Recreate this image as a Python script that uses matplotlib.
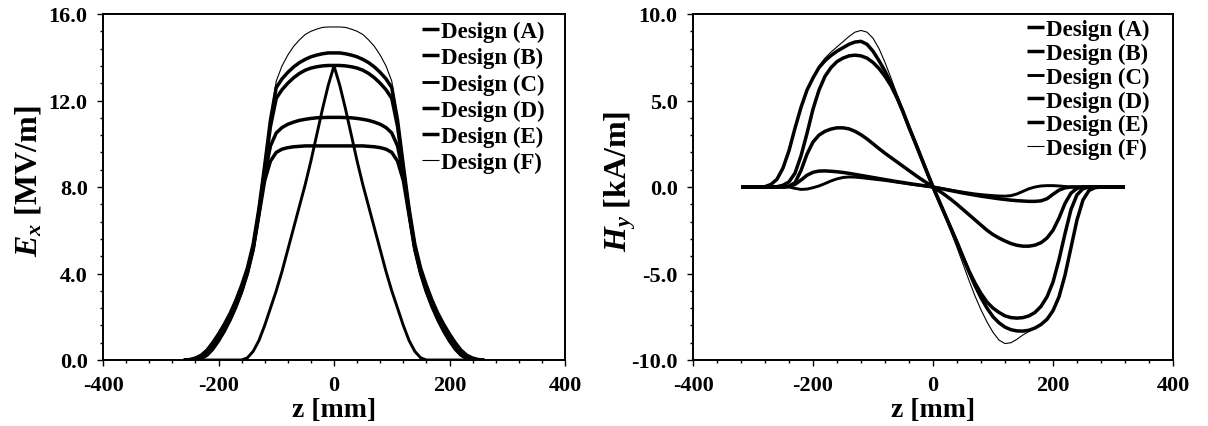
import matplotlib
matplotlib.use("Agg")
import matplotlib.pyplot as plt
from matplotlib.ticker import MultipleLocator, FormatStrFormatter

plt.rcParams['font.family'] = ['Liberation Serif', 'DejaVu Serif']
plt.rcParams['font.weight'] = 'bold'
plt.rcParams['axes.unicode_minus'] = False
plt.rcParams['mathtext.fontset'] = 'custom'
plt.rcParams['mathtext.it'] = 'Liberation Serif:italic:bold'
plt.rcParams['mathtext.rm'] = 'Liberation Serif:bold'
plt.rcParams['mathtext.bf'] = 'Liberation Serif:bold'

# ---------------- data ----------------
labels = ['Design (A)', 'Design (B)', 'Design (C)', 'Design (D)', 'Design (E)', 'Design (F)']

# Left panel: E_x [MV/m] vs z [mm]
z_E = list(range(-260, 261, 10))
E_A = [0, 0.02, 0.09, 0.22, 0.45, 0.8, 1.2, 1.65, 2.15, 2.75,
       3.45, 4.25, 5.35, 7.0, 9.0, 11.1, 12.6, 13.0, 13.3, 13.55,
       13.75, 13.9, 14.02, 14.1, 14.16, 14.2, 14.2, 14.2, 14.16, 14.1,
       14.02, 13.9, 13.75, 13.55, 13.3, 13.0, 12.6, 11.1, 9.0, 7.0,
       5.35, 4.25, 3.45, 2.75, 2.15, 1.65, 1.2, 0.8, 0.45, 0.22,
       0.09, 0.02, 0]
E_B = [0, 0, 0.04, 0.14, 0.32, 0.62, 1.0, 1.45, 1.95, 2.55,
       3.25, 4.1, 5.2, 6.85, 8.8, 10.8, 12.1, 12.5, 12.8, 13.05,
       13.25, 13.4, 13.5, 13.56, 13.6, 13.62, 13.62, 13.62, 13.6, 13.56,
       13.5, 13.4, 13.25, 13.05, 12.8, 12.5, 12.1, 10.8, 8.8, 6.85,
       5.2, 4.1, 3.25, 2.55, 1.95, 1.45, 1.0, 0.62, 0.32, 0.14,
       0.04, 0, 0]
E_C = [0, 0, 0, 0, 0, 0, 0, 0, 0, 0,
       0.0, 0.1, 0.4, 0.9, 1.6, 2.4, 3.2, 4.1, 5.1, 6.1,
       7.1, 8.1, 9.2, 10.4, 11.6, 12.7, 13.6, 12.7, 11.6, 10.4,
       9.2, 8.1, 7.1, 6.1, 5.1, 4.1, 3.2, 2.4, 1.6, 0.9,
       0.4, 0.1, 0.0, 0, 0, 0, 0, 0, 0, 0,
       0, 0, 0]
E_D = [0, 0, 0.02, 0.1, 0.26, 0.55, 0.93, 1.38, 1.9, 2.5,
       3.2, 4.05, 5.15, 6.8, 8.6, 9.9, 10.5, 10.75, 10.9, 11.0,
       11.08, 11.13, 11.17, 11.2, 11.21, 11.22, 11.22, 11.22, 11.21, 11.2,
       11.17, 11.13, 11.08, 11.0, 10.9, 10.75, 10.5, 9.9, 8.6, 6.8,
       5.15, 4.05, 3.2, 2.5, 1.9, 1.38, 0.93, 0.55, 0.26, 0.1,
       0.02, 0, 0]
E_E = [0, 0, 0.01, 0.07, 0.22, 0.5, 0.88, 1.33, 1.85, 2.45,
       3.15, 4.0, 5.1, 6.7, 8.3, 9.2, 9.6, 9.75, 9.82, 9.86,
       9.88, 9.9, 9.9, 9.9, 9.9, 9.9, 9.9, 9.9, 9.9, 9.9,
       9.9, 9.9, 9.88, 9.86, 9.82, 9.75, 9.6, 9.2, 8.3, 6.7,
       5.1, 4.0, 3.15, 2.45, 1.85, 1.33, 0.88, 0.5, 0.22, 0.07,
       0.01, 0, 0]
E_F = [0, 0.03, 0.1, 0.25, 0.5, 0.85, 1.25, 1.7, 2.2, 2.8,
       3.5, 4.3, 5.4, 7.0, 9.0, 11.2, 12.9, 13.6, 14.1, 14.5,
       14.8, 15.05, 15.2, 15.3, 15.38, 15.4, 15.4, 15.4, 15.38, 15.3,
       15.2, 15.05, 14.8, 14.5, 14.1, 13.6, 12.9, 11.2, 9.0, 7.0,
       5.4, 4.3, 3.5, 2.8, 2.2, 1.7, 1.25, 0.85, 0.5, 0.25,
       0.1, 0.03, 0]

# Right panel: H_y [kA/m] vs z [mm]
z_H = list(range(-320, 321, 10))
H_A = [0, 0, 0, 0, 0.02, 0.15, 0.45, 1.1, 2.1, 3.4,
       4.6, 5.6, 6.3, 6.9, 7.3, 7.6, 7.85, 8.05, 8.25, 8.38,
       8.42, 8.25, 7.85, 7.3, 6.7, 6.0, 5.2, 4.35, 3.45, 2.6,
       1.73, 0.86, 0, -0.8, -1.6, -2.4, -3.2, -4.05, -4.9, -5.7,
       -6.4, -7.0, -7.5, -7.85, -8.1, -8.25, -8.32, -8.33, -8.28, -8.15,
       -7.95, -7.65, -7.15, -6.35, -5.1, -3.5, -1.9, -0.75, -0.2, -0.04,
       0, 0, 0, 0, 0]
H_B = [0, 0, 0, 0, 0, 0, 0.02, 0.1, 0.3, 0.8,
       1.8, 3.1, 4.5, 5.6, 6.4, 6.9, 7.25, 7.45, 7.58, 7.62,
       7.58, 7.45, 7.2, 6.85, 6.4, 5.85, 5.15, 4.35, 3.45, 2.6,
       1.73, 0.86, 0, -0.8, -1.6, -2.4, -3.2, -4.05, -4.85, -5.55,
       -6.15, -6.65, -7.0, -7.25, -7.45, -7.55, -7.58, -7.55, -7.45, -7.25,
       -6.9, -6.35, -5.5, -4.2, -2.7, -1.3, -0.45, -0.1, 0, 0,
       0, 0, 0, 0, 0]
H_C = [0, 0, 0, 0, 0, 0, 0, 0, 0, -0.08,
       -0.14, -0.12, -0.04, 0.06, 0.2, 0.35, 0.47, 0.55, 0.58, 0.57,
       0.54, 0.5, 0.46, 0.42, 0.38, 0.33, 0.28, 0.23, 0.18, 0.13,
       0.09, 0.04, 0, -0.06, -0.12, -0.18, -0.24, -0.3, -0.35, -0.4,
       -0.44, -0.47, -0.5, -0.52, -0.53, -0.5, -0.4, -0.25, -0.1, 0.0,
       0.06, 0.08, 0.08, 0.06, 0.03, 0, 0, 0, 0, 0,
       0, 0, 0, 0, 0]
H_D = [0, 0, 0, 0, 0, 0, 0, 0, 0.05, 0.25,
       0.95, 1.9, 2.6, 3.0, 3.22, 3.35, 3.42, 3.42, 3.36, 3.22,
       3.02, 2.78, 2.5, 2.22, 1.95, 1.7, 1.45, 1.2, 0.95, 0.7,
       0.46, 0.23, 0, -0.22, -0.46, -0.72, -1.0, -1.3, -1.6, -1.9,
       -2.2, -2.5, -2.75, -2.95, -3.12, -3.27, -3.37, -3.42, -3.42, -3.36,
       -3.22, -2.95, -2.5, -1.8, -0.95, -0.35, -0.08, 0, 0, 0,
       0, 0, 0, 0, 0]
H_E = [0, 0, 0, 0, 0, 0, 0, 0, 0.03, 0.15,
       0.4, 0.68, 0.85, 0.92, 0.93, 0.91, 0.88, 0.84, 0.79, 0.73,
       0.67, 0.61, 0.55, 0.49, 0.43, 0.37, 0.31, 0.26, 0.2, 0.15,
       0.1, 0.05, 0, -0.07, -0.14, -0.21, -0.28, -0.35, -0.41, -0.47,
       -0.53, -0.58, -0.63, -0.68, -0.72, -0.76, -0.79, -0.81, -0.83, -0.83,
       -0.8, -0.68, -0.42, -0.18, -0.05, 0, 0, 0, 0, 0,
       0, 0, 0, 0, 0]
H_F = [0, 0, 0, 0, 0.02, 0.12, 0.4, 1.0, 2.0, 3.3,
       4.55, 5.6, 6.4, 7.0, 7.45, 7.8, 8.1, 8.4, 8.7, 8.95,
       9.05, 8.95, 8.6, 8.0, 7.2, 6.3, 5.35, 4.4, 3.45, 2.6,
       1.73, 0.86, 0, -0.85, -1.7, -2.6, -3.5, -4.45, -5.4, -6.3,
       -7.1, -7.8, -8.4, -8.85, -9.05, -9.0, -8.8, -8.55, -8.35, -8.15,
       -7.95, -7.65, -7.15, -6.35, -5.1, -3.5, -1.9, -0.75, -0.2, -0.04,
       0, 0, 0, 0, 0]

x_ticks = [-400, -200, 0, 200, 400]
E_ticks = [0.0, 4.0, 8.0, 12.0, 16.0]
H_ticks = [-10.0, -5.0, 0.0, 5.0, 10.0]

E_series = [E_A, E_B, E_C, E_D, E_E, E_F]
H_series = [H_A, H_B, H_C, H_D, H_E, H_F]
widths = [2.5, 2.5, 2.1, 2.5, 2.5, 0.8]

# ---------------- figure ----------------
W, Hpx = 1208, 427
fig = plt.figure(figsize=(W / 100, Hpx / 100), dpi=100)
ax1 = fig.add_axes([103 / W, 1 - 361 / Hpx, 462 / W, 346 / Hpx])
ax2 = fig.add_axes([693 / W, 1 - 361 / Hpx, 480 / W, 346 / Hpx])

for ys, lw, lab in zip(E_series, widths, labels):
    ax1.plot(z_E, ys, color='black', lw=lw, label=lab, solid_capstyle='butt')
for ys, lw, lab in zip(H_series, widths, labels):
    ax2.plot(z_H, ys, color='black', lw=lw, label=lab, solid_capstyle='butt')

tick_fs = 16
for ax in (ax1, ax2):
    ax.set_xlim(-400, 400)
    ax.set_xticks(x_ticks)
    ax.xaxis.set_minor_locator(MultipleLocator(40))
    ax.tick_params(which='both', direction='out', top=False, right=False,
                   labelsize=tick_fs, width=1.0)
    ax.tick_params(which='major', length=4, pad=7)
    ax.tick_params(which='minor', length=2.5)
    for s in ax.spines.values():
        s.set_linewidth(1.4)
    ax.yaxis.set_major_formatter(FormatStrFormatter('%.1f'))
    for t in ax.get_xticklabels() + ax.get_yticklabels():
        t.set_fontweight('bold')
    ax.set_xlabel('z [mm]', fontsize=20, fontweight='bold', labelpad=1)

ax1.set_ylim(0, 16)
ax1.set_yticks(E_ticks)
ax1.yaxis.set_minor_locator(MultipleLocator(0.8))
ax1.set_ylabel(r'$E_x$ [MV/m]', fontsize=23, fontweight='bold')
ax1.yaxis.set_label_coords(-0.128, 0.52)

ax2.set_ylim(-10, 10)
ax2.set_yticks(H_ticks)
ax2.yaxis.set_minor_locator(MultipleLocator(1.0))
ax2.set_ylabel(r'$H_y$ [kA/m]', fontsize=23, fontweight='bold')
ax2.yaxis.set_label_coords(-0.115, 0.52)

leg_kw = dict(frameon=False, fontsize=16.5, handlelength=0.75, handletextpad=0.1,
              borderpad=0, borderaxespad=0, loc='upper left')
ax1.legend(bbox_to_anchor=(0.69, 0.98), labelspacing=0.22, **leg_kw)
ax2.legend(bbox_to_anchor=(0.695, 0.985), labelspacing=0.11, **leg_kw)

fig.savefig('out.png', dpi=100)
